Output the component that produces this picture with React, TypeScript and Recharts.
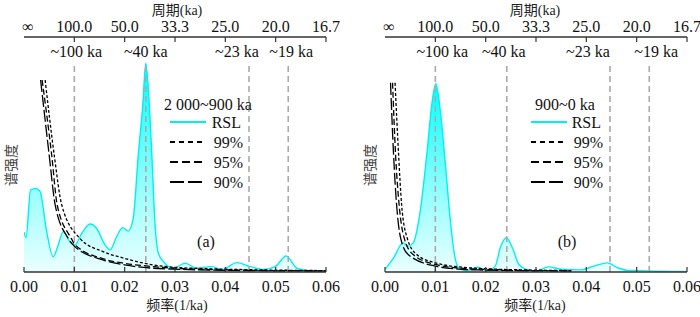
import React from "react";
import { ComposedChart, Area, Line, XAxis, YAxis, ReferenceLine } from "recharts";

// axis ticks (frequency, 1/ka) and the matching period labels on the top axis
const freqTicks = [0, 0.01, 0.02, 0.03, 0.04, 0.05, 0.06];
const freqTickLabels = ["0.00", "0.01", "0.02", "0.03", "0.04", "0.05", "0.06"];
const periodTickLabels = ["∞", "100.0", "50.0", "33.3", "25.0", "20.0", "16.7"];

// orbital cycles marked with grey dashed lines
const cycleFreqs = [0.01, 0.0242, 0.0447, 0.0525];
const cycleLabels = ["~100 ka", "~40 ka", "~23 ka", "~19 ka"];
const cycleTop = 0.889;

// (a) 2 000~900 ka
const rslAFreq = [0, 0.0004, 0.0013, 0.0024, 0.0032, 0.0045, 0.0058, 0.0068, 0.0078, 0.0091, 0.0101, 0.0115, 0.0131, 0.0144, 0.0161, 0.0171, 0.0184, 0.0196, 0.0207, 0.0217, 0.0227, 0.0236, 0.0242, 0.0249, 0.0254, 0.026, 0.0267, 0.0277, 0.0297, 0.032, 0.0343, 0.0373, 0.0393, 0.0423, 0.0449, 0.0476, 0.0499, 0.0521, 0.0542, 0.0565, 0.058, 0.06];
const rslAVal = [0.17, 0.146, 0.349, 0.356, 0.342, 0.172, 0.065, 0.115, 0.172, 0.129, 0.115, 0.165, 0.204, 0.186, 0.115, 0.094, 0.15, 0.189, 0.174, 0.228, 0.498, 0.71, 0.888, 0.71, 0.498, 0.214, 0.08, 0.044, 0.016, 0.037, 0.016, 0.023, 0.01, 0.04, 0.023, 0.011, 0.023, 0.068, 0.016, 0.006, 0.003, 0.002];
const c90AFreq = [0.0033, 0.005, 0.0062, 0.0088, 0.0101, 0.0158, 0.02, 0.0257, 0.03, 0.04, 0.05, 0.06];
const c90AVal = [0.817, 0.498, 0.285, 0.143, 0.108, 0.051, 0.03, 0.016, 0.012, 0.007, 0.005, 0.004];
const c95AFreq = [0.0036, 0.0055, 0.0066, 0.0094, 0.0101, 0.0158, 0.02, 0.0257, 0.03, 0.04, 0.05, 0.06];
const c95AVal = [0.817, 0.498, 0.285, 0.143, 0.117, 0.056, 0.037, 0.023, 0.016, 0.009, 0.006, 0.005];
const c99AFreq = [0.0042, 0.006, 0.0075, 0.0111, 0.0158, 0.02, 0.0257, 0.03, 0.04, 0.05, 0.06];
const c99AVal = [0.817, 0.498, 0.285, 0.143, 0.086, 0.058, 0.03, 0.02, 0.012, 0.008, 0.006];

// (b) 900~0 ka
const rslBFreq = [0, 0.0017, 0.0036, 0.0046, 0.0056, 0.007, 0.0083, 0.0093, 0.0101, 0.011, 0.012, 0.013, 0.0138, 0.0146, 0.0163, 0.0183, 0.0203, 0.0219, 0.0229, 0.0241, 0.0253, 0.0266, 0.0282, 0.0299, 0.0325, 0.0349, 0.0389, 0.0415, 0.0442, 0.0462, 0.0482, 0.051, 0.054, 0.06];
const rslBVal = [0.01, 0.06, 0.124, 0.11, 0.124, 0.259, 0.5, 0.713, 0.801, 0.684, 0.457, 0.216, 0.074, 0.018, 0.005, 0.02, 0.005, 0.025, 0.103, 0.146, 0.103, 0.032, 0.01, 0.003, 0.022, 0.012, 0.009, 0.025, 0.039, 0.018, 0.007, 0.006, 0.003, 0.002];
const c90BFreq = [0.0011, 0.0017, 0.0023, 0.0031, 0.0046, 0.01, 0.0156, 0.02, 0.03, 0.037];
const c90BVal = [0.805, 0.5, 0.287, 0.145, 0.074, 0.025, 0.011, 0.008, 0.005, 0.004];
const c95BFreq = [0.0015, 0.0021, 0.0028, 0.0038, 0.0056, 0.01, 0.0156, 0.02, 0.03, 0.037];
const c95BVal = [0.805, 0.5, 0.287, 0.145, 0.074, 0.032, 0.015, 0.011, 0.006, 0.005];
const c99BFreq = [0.002, 0.0027, 0.0033, 0.0044, 0.0063, 0.01, 0.0156, 0.02, 0.03, 0.037];
const c99BVal = [0.805, 0.5, 0.287, 0.145, 0.074, 0.039, 0.02, 0.014, 0.008, 0.006];

const FONT = "'Liberation Serif', 'Noto Sans CJK SC', serif";
const CJK = "'Noto Sans CJK SC', sans-serif";
const AXIS = "#333";
const CYAN = "#00f0f0";
const GREY = "#aaaaaa";
const DASH99 = "5 4";
const DASH95 = "8 4";
const DASH90 = "14 4";

const zip = (f: number[], v: number[]) => f.map((x, i) => ({ f: x, v: v[i] }));

const BottomTick = (props: any) => {
  const { x, y, payload } = props;
  const i = freqTicks.indexOf(payload.value);
  return (
    <g>
      <line x1={x} x2={x} y1={y} y2={y - 5} stroke={AXIS} strokeWidth={1.2} />
      <text x={x} y={y + 20} textAnchor="middle" fontSize={16} fontFamily={FONT} fill="#111">
        {freqTickLabels[i]}
      </text>
    </g>
  );
};

const TopTick = (props: any) => {
  const { x, y, payload } = props;
  const i = freqTicks.indexOf(payload.value);
  return (
    <g>
      {i > 0 && <line x1={x} x2={x} y1={y} y2={y + 5} stroke={AXIS} strokeWidth={1.2} />}
      <text x={i === 0 ? x + 4 : x} y={y - 5} textAnchor="middle" fontSize={16} fontFamily={FONT} fill="#111">
        {periodTickLabels[i]}
      </text>
    </g>
  );
};

const CycleLabel = (props: any) => {
  const { viewBox, text, shift } = props;
  return (
    <text x={viewBox.x + shift} y={viewBox.y - 6} textAnchor="middle" fontSize={16} fontFamily={FONT} fill="#111">
      {text}
    </text>
  );
};

type PanelProps = {
  id: string;
  left: number;
  plotLeft: number;
  rsl: { f: number; v: number }[];
  c90: { f: number; v: number }[];
  c95: { f: number; v: number }[];
  c99: { f: number; v: number }[];
  title: string;
  tag: string;
  labelShift: number[];
  legendX: number;
  textEnd: number;
  titleX: number;
  axisTitleX: number;
  yLabelX: number;
};

function Panel(p: PanelProps) {
  const width = 350;
  const height = 317;
  const rows = [
    { y: 142, dash: DASH99, name: "99%" },
    { y: 162, dash: DASH95, name: "95%" },
    { y: 182, dash: DASH90, name: "90%" },
  ];
  return (
    <div style={{ position: "absolute", left: p.left, top: 0, width, height }}>
      <ComposedChart
        width={width}
        height={height}
        margin={{ top: 7, right: width - p.plotLeft - 302, bottom: 15, left: p.plotLeft }}
      >
        <defs>
          <linearGradient id={`grad-${p.id}`} x1="0" y1="0" x2="0" y2="1">
            <stop offset="0%" stopColor="#00ffff" stopOpacity={1} />
            <stop offset="55%" stopColor="#00ffff" stopOpacity={0.45} />
            <stop offset="100%" stopColor="#00ffff" stopOpacity={0.08} />
          </linearGradient>
        </defs>
        <XAxis
          xAxisId={0}
          type="number"
          dataKey="f"
          domain={[0, 0.06]}
          ticks={freqTicks}
          allowDataOverflow
          height={30}
          tickSize={0}
          tickMargin={0}
          tickLine={false}
          axisLine={{ stroke: AXIS, strokeWidth: 1.3 }}
          tick={<BottomTick />}
          interval={0}
        />
        <XAxis
          xAxisId="top"
          orientation="top"
          type="number"
          dataKey="f"
          domain={[0, 0.06]}
          ticks={freqTicks}
          allowDataOverflow
          height={30}
          tickSize={0}
          tickMargin={0}
          tickLine={false}
          axisLine={{ stroke: AXIS, strokeWidth: 1.3 }}
          tick={<TopTick />}
          interval={0}
        />
        <YAxis
          type="number"
          domain={[0, 1]}
          allowDataOverflow
          width={0}
          tick={false}
          tickLine={false}
          axisLine={{ stroke: AXIS, strokeWidth: 1.3 }}
        />
        {cycleFreqs.map((f, i) => (
          <ReferenceLine
            key={f}
            segment={[{ x: f, y: 0 }, { x: f, y: cycleTop }]}
            stroke={GREY}
            strokeWidth={1.6}
            strokeDasharray="6 4"
            label={<CycleLabel text={cycleLabels[i]} shift={p.labelShift[i]} />}
          />
        ))}
        <Area
          data={p.rsl}
          dataKey="v"
          type="monotone"
          stroke={CYAN}
          strokeWidth={1.4}
          fill={`url(#grad-${p.id})`}
          fillOpacity={1}
          isAnimationActive={false}
          dot={false}
          activeDot={false}
        />
        <Line data={p.c99} dataKey="v" type="monotone" stroke="#000" strokeWidth={1.3} strokeDasharray="3 2" dot={false} isAnimationActive={false} />
        <Line data={p.c95} dataKey="v" type="monotone" stroke="#000" strokeWidth={1.3} strokeDasharray="6 3" dot={false} isAnimationActive={false} />
        <Line data={p.c90} dataKey="v" type="monotone" stroke="#000" strokeWidth={1.3} strokeDasharray="12 3" dot={false} isAnimationActive={false} />
      </ComposedChart>
      <svg width={width} height={height} style={{ position: "absolute", left: 0, top: 0, pointerEvents: "none" }}>
        <text x={p.axisTitleX} y={15} textAnchor="middle" fontSize={14} fontFamily={FONT} fill="#222">
          <tspan fontFamily={CJK}>周期</tspan>(ka)
        </text>
        <text x={p.axisTitleX} y={310} textAnchor="middle" fontSize={14} fontFamily={FONT} fill="#222">
          <tspan fontFamily={CJK}>频率</tspan>(1/ka)
        </text>
        <text
          x={p.yLabelX}
          y={165}
          textAnchor="middle"
          dominantBaseline="central"
          fontSize={14}
          fontFamily={CJK}
          fill="#444"
          transform={`rotate(-90, ${p.yLabelX}, 165)`}
        >
          谱强度
        </text>
        <text x={p.legendX + 36} y={247} textAnchor="middle" fontSize={16} fontFamily={FONT} fill="#111">
          {p.tag}
        </text>
        <text x={p.titleX} y={110} textAnchor="middle" fontSize={16} fontFamily={FONT} fill="#111">
          {p.title}
        </text>
        <line x1={p.legendX} x2={p.legendX + 36} y1={122} y2={122} stroke={CYAN} strokeWidth={2} />
        <text x={p.textEnd} y={128} textAnchor="end" fontSize={16} fontFamily={FONT} fill="#111">
          RSL
        </text>
        {rows.map((r) => (
          <g key={r.name}>
            <line x1={p.legendX} x2={p.legendX + 32} y1={r.y} y2={r.y} stroke="#000" strokeWidth={2} strokeDasharray={r.dash} />
            <text x={p.textEnd + 2} y={r.y + 6} textAnchor="end" fontSize={16} fontFamily={FONT} fill="#111">
              {r.name}
            </text>
          </g>
        ))}
      </svg>
    </div>
  );
}

export default function App() {
  return (
    <div style={{ position: "absolute", left: 0, top: 0, width: 700, height: 317, background: "#fff", fontFamily: FONT }}>
      <Panel
        id="a"
        left={0}
        plotLeft={24}
        rsl={zip(rslAFreq, rslAVal)}
        c90={zip(c90AFreq, c90AVal)}
        c95={zip(c95AFreq, c95AVal)}
        c99={zip(c99AFreq, c99AVal)}
        title="2 000~900 ka"
        tag="(a)"
        labelShift={[2, 0, -12, 3]}
        legendX={170}
        textEnd={241}
        titleX={208}
        axisTitleX={177}
        yLabelX={10}
      />
      <Panel
        id="b"
        left={350}
        plotLeft={35}
        rsl={zip(rslBFreq, rslBVal)}
        c90={zip(c90BFreq, c90BVal)}
        c95={zip(c95BFreq, c95BVal)}
        c99={zip(c99BFreq, c99BVal)}
        title="900~0 ka"
        tag="(b)"
        labelShift={[7, -3, -22, 7]}
        legendX={181}
        textEnd={251}
        titleX={215}
        axisTitleX={185}
        yLabelX={19}
      />
    </div>
  );
}
